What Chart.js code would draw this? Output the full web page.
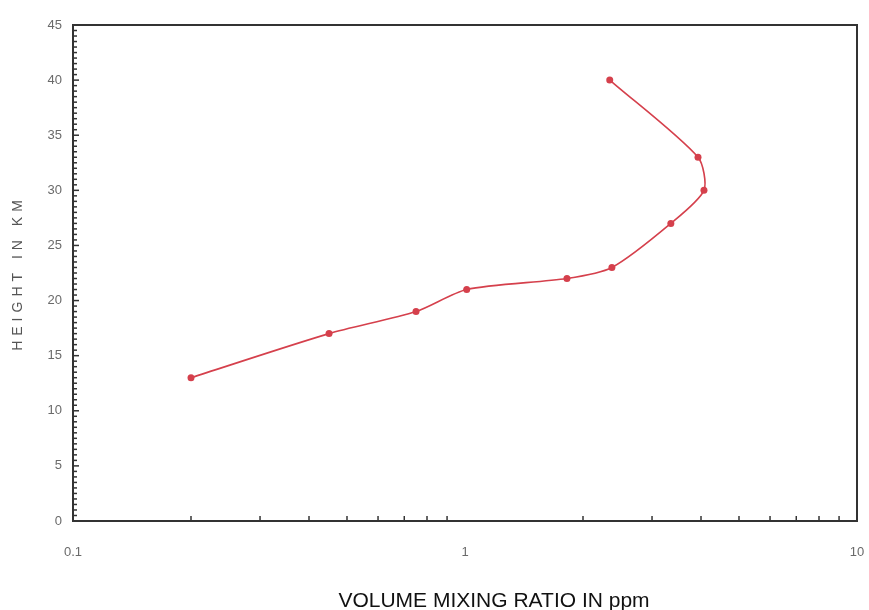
<!DOCTYPE html>
<html>
<head>
<meta charset="utf-8">
<script src="https://cdn.jsdelivr.net/npm/chart.js@4/dist/chart.umd.min.js"></script>
<style>
  html, body { margin: 0; padding: 0; background: #fff; }
  #wrap { width: 869px; height: 610px; }
</style>
</head>
<body>
<div id="wrap"><canvas id="perfil"></canvas></div>
<script>
// valores
const ratioPpm = [0.2, 0.45, 0.75, 1.01, 1.82, 2.37, 3.35, 4.07, 3.93, 2.34];
const alturaKm = [13, 17, 19, 21, 22, 23, 27, 30, 33, 40];
const xTicks = [0.1, 1, 10];
const xTitulo = 'VOLUME MIXING RATIO IN ppm';
const yTitulo = 'HEIGHT IN KM';

const colorLinea = '#d5404c';
const colorEje = '#333333';
const colorTexto = '#6a6a6a';

const puntos = ratioPpm.map((r, i) => ({ x: r, y: alturaKm[i] }));

// marco + marcas menores hacia adentro
const marcoPlugin = {
    id: 'marco',
    afterLayout(chart) {
        const y = chart.scales.y;
        if (y && !y._ajustado) {
            const orig = y.drawTitle;
            y.drawTitle = function(...args) {
                const ctx = this.ctx;
                ctx.save();
                ctx.letterSpacing = '5px';
                orig.apply(this, args);
                ctx.restore();
            };
            y._ajustado = true;
        }
        const x = chart.scales.x;
        if (x && !x._ajustado) {
            const orig = x.drawTitle;
            x.drawTitle = function(...args) {
                const ctx = this.ctx;
                ctx.save();
                ctx.translate(29, 4); // el titulo no esta centrado en el original
                orig.apply(this, args);
                ctx.restore();
            };
            x._ajustado = true;
        }
    },
    afterDraw(chart) {
        const { ctx, chartArea: a, scales } = chart;
        ctx.save();
        ctx.strokeStyle = colorEje;
        ctx.lineWidth = 1.5;
        // marcas eje y cada 0.5 km
        for (let v = 0.5; v < 45; v += 0.5) {
            const py = scales.y.getPixelForValue(v);
            const largo = v % 5 === 0 ? 6 : 4;
            ctx.beginPath();
            ctx.moveTo(a.left, py);
            ctx.lineTo(a.left + largo, py);
            ctx.stroke();
        }
        // marcas menores eje x (log)
        [0.1, 1].forEach((dec) => {
            for (let k = 2; k <= 9; k++) {
                const px = scales.x.getPixelForValue(dec * k);
                ctx.beginPath();
                ctx.moveTo(px, a.bottom);
                ctx.lineTo(px, a.bottom - 5);
                ctx.stroke();
            }
        });
        // marco completo
        ctx.lineWidth = 2;
        ctx.strokeRect(a.left, a.top, a.right - a.left, a.bottom - a.top);
        ctx.restore();
    }
};

const config = {
    type: 'scatter',
    data: {
        datasets: [{
            data: puntos,
            showLine: true,
            borderColor: colorLinea,
            backgroundColor: colorLinea,
            borderWidth: 1.6,
            pointRadius: 3.5,
            pointHoverRadius: 3.5,
            pointBorderWidth: 0,
            tension: 0.25
        }]
    },
    options: {
        responsive: true,
        maintainAspectRatio: false,
        animation: false,
        layout: { padding: { top: 25, right: 12, left: 0, bottom: 0 } },
        plugins: { legend: { display: false }, tooltip: { enabled: false } },
        scales: {
            x: {
                type: 'logarithmic',
                min: 0.1,
                max: 10,
                afterBuildTicks: (s) => { s.ticks = xTicks.map((v) => ({ value: v })); },
                afterFit: (s) => { s.height = 89; s.paddingLeft = 0; s.paddingRight = 0; },
                grid: { display: false, drawTicks: false },
                border: { display: false },
                ticks: {
                    padding: 24,
                    color: colorTexto,
                    font: { family: 'Liberation Sans, Arial, sans-serif', size: 13 },
                    maxRotation: 0,
                    callback: (v) => String(v)
                },
                title: {
                    display: true,
                    text: xTitulo,
                    color: '#111',
                    font: { family: 'Liberation Sans, Arial, sans-serif', size: 21 },
                    padding: { top: 18, bottom: 0 }
                }
            },
            y: {
                min: 0,
                max: 45,
                afterFit: (s) => { s.width = 73; s.paddingTop = 0; s.paddingBottom = 0; },
                grid: { display: false, drawTicks: false },
                border: { display: false },
                ticks: {
                    stepSize: 5,
                    padding: 11,
                    color: colorTexto,
                    font: { family: 'Liberation Sans, Arial, sans-serif', size: 13 }
                },
                title: {
                    display: true,
                    text: yTitulo,
                    color: '#555',
                    font: { family: 'Liberation Sans, Arial, sans-serif', size: 14 },
                    padding: { top: 10, bottom: 0 }
                }
            }
        }
    },
    plugins: [marcoPlugin]
};

new Chart(document.querySelector('#perfil'), config);
</script>
</body>
</html>
